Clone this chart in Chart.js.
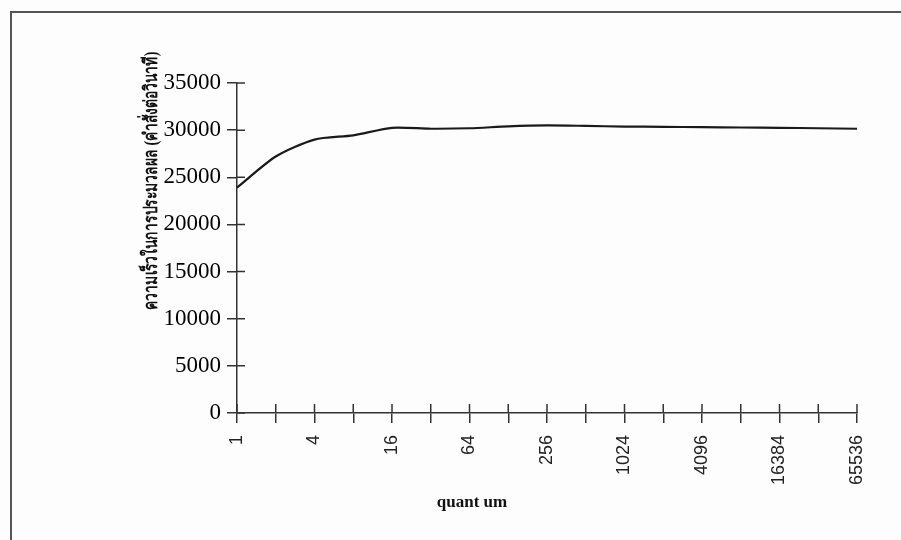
<!DOCTYPE html>
<html>
<head>
<meta charset="utf-8">
<script src="https://cdn.jsdelivr.net/npm/chart.js@4"></script>
<style>
  html, body { margin: 0; padding: 0; background: #fdfdfd; }
  #wrap { position: relative; width: 901px; height: 540px; overflow: hidden; }
  #frame {
    position: absolute; left: 10px; top: 11px; width: 960px; height: 600px;
    border-left: 2px solid #555; border-top: 2px solid #555;
  }
  #chart { position: absolute; left: 0; top: 0; }
</style>
</head>
<body>
<div id="wrap">
  <div id="frame"></div>
  <canvas id="chart" width="901" height="540"></canvas>
</div>
<script>
// quantum sizes (powers of two) and measured processing speed
const quantumLabels = ['1', '2', '4', '8', '16', '32', '64', '128', '256', '512',
  '1024', '2048', '4096', '8192', '16384', '32768', '65536'];
const speedValues = [23900, 27200, 29000, 29450, 30250, 30150, 30200, 30400, 30500,
  30450, 30380, 30350, 30320, 30280, 30250, 30200, 30150];

const yMin = 0;
const yMax = 35000;
const yStep = 5000;

const xTitle = 'quant um';
const yTitle = 'ความเร็วในการประมวลผล (คำสั่งต่อวินาที)';

const axisColor = '#333';

// ticks cross the axis line, so draw the inner half too
const crossTicks = {
  id: 'crossTicks',
  afterDraw(chart) {
    const ctx = chart.ctx;
    const area = chart.chartArea;
    const x = chart.scales.x;
    const y = chart.scales.y;
    ctx.save();
    ctx.strokeStyle = axisColor;
    ctx.lineWidth = 1.5;
    ctx.beginPath();
    x.ticks.forEach((t, i) => {
      const px = x.getPixelForTick(i);
      ctx.moveTo(px, area.bottom);
      ctx.lineTo(px, area.bottom - 9);
    });
    y.ticks.forEach((t, i) => {
      const py = y.getPixelForTick(i);
      ctx.moveTo(area.left, py);
      ctx.lineTo(area.left + 8, py);
    });
    ctx.stroke();
    ctx.restore();
  }
};

const axisTitles = {
  id: 'axisTitles',
  afterDraw(chart) {
    const ctx = chart.ctx;
    const area = chart.chartArea;
    ctx.save();
    ctx.fillStyle = '#111';
    ctx.textAlign = 'center';
    ctx.textBaseline = 'middle';
    ctx.font = 'bold 17px "Liberation Serif", serif';
    ctx.fillText(xTitle, area.left + 235, area.bottom + 90);
    ctx.translate(area.left - 85, area.top + 98);
    ctx.rotate(-Math.PI / 2);
    ctx.scale(0.73, 1); // the thai font in the original is a narrow one
    ctx.font = 'bold 19px "Liberation Serif", "Noto Sans", serif';
    ctx.fillText(yTitle, 0, 0);
    ctx.restore();
  }
};

new Chart(document.getElementById('chart'), {
  type: 'line',
  data: {
    labels: quantumLabels,
    datasets: [{
      data: speedValues,
      borderColor: '#1a1a1a',
      borderWidth: 2.2,
      pointRadius: 0,
      tension: 0.25,
      fill: false
    }]
  },
  options: {
    responsive: false,
    animation: false,
    layout: { padding: { top: 83, right: 44, left: 0, bottom: 0 } },
    plugins: {
      legend: { display: false },
      tooltip: { enabled: false }
    },
    scales: {
      x: {
        type: 'category',
        offset: false,
        afterFit(scale) { scale.height = 127; },
        grid: { drawOnChartArea: false, tickLength: 10, color: axisColor, lineWidth: 1.5 },
        border: { color: axisColor, width: 1.5 },
        ticks: {
          autoSkip: false,
          minRotation: 90,
          maxRotation: 90,
          padding: 12,
          color: '#222',
          font: { family: '"Liberation Sans", sans-serif', size: 18 },
          callback: (v, i) => (i % 2 === 0 ? quantumLabels[i] : '')
        }
      },
      y: {
        min: yMin,
        max: yMax,
        afterFit(scale) { scale.width = 237; },
        grid: { drawOnChartArea: false, tickLength: 10, color: axisColor, lineWidth: 1.5 },
        border: { color: axisColor, width: 1.5 },
        ticks: {
          stepSize: yStep,
          padding: 6,
          color: '#000',
          font: { family: '"Liberation Serif", serif', size: 23 },
          callback: v => String(v)
        }
      }
    }
  },
  plugins: [crossTicks, axisTitles]
});
</script>
</body>
</html>
